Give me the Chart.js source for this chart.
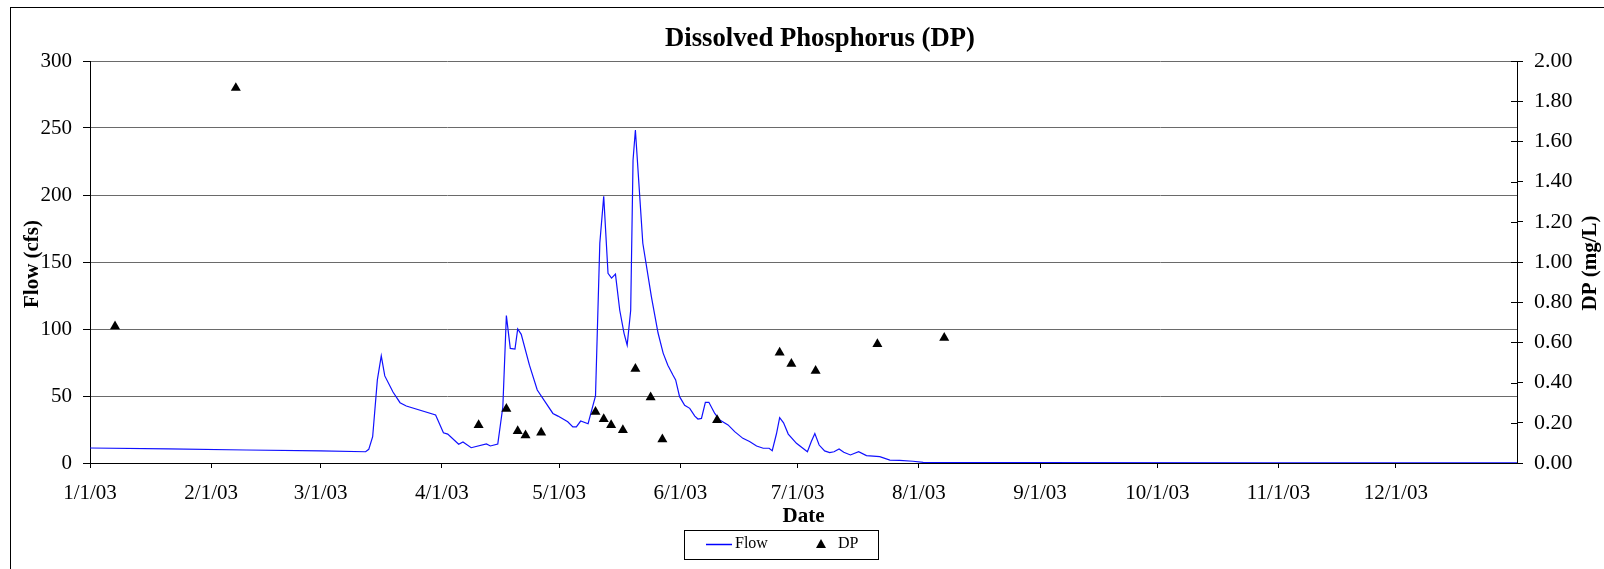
<!DOCTYPE html>
<html><head><meta charset="utf-8">
<script src="https://cdn.jsdelivr.net/npm/chart.js@4.4.1/dist/chart.umd.min.js"></script>
<style>html,body{margin:0;padding:0;background:#fff;overflow:hidden}#wrap{position:relative;width:1604px;height:569px}</style>
</head><body><div id="wrap"><canvas id="c" width="1604" height="569"></canvas></div>
<script>
// Day of year (0 = 1/1/03) and flow in cfs
const flowDay = [0, 20, 40, 59, 70.5, 71.3, 72.3, 73.5, 74.5, 75.4, 77.5, 79.3, 80.9, 88.4, 90.4, 91.5, 94.3, 95.4, 97.5,
  101.4, 102.4, 104.3, 105.6, 106.5, 107.5, 108.7, 109.4, 110.3, 112.4, 114.4, 118.4, 119.7, 122.2, 123.5, 124.4, 125.5, 127.4, 129.3,
  130.4, 131.4, 132.5, 133.4, 134.4, 135.5, 136.6, 137.4, 138.3, 138.9, 139.5, 141.4, 143.6, 145.3, 146.6,
  147.8, 149.1, 149.8, 150.8, 152.1, 153.4, 154.7, 155.5, 156.4, 157.4, 158.3, 159.8, 161.1, 163.2, 164.9, 167, 168.7, 170.5, 172.2, 173.7, 174.5,
  175.6, 176.4, 177.4, 178.6, 180.7, 183.5, 184.5, 185.4, 186.5, 187.9, 189.2, 190.3, 191.6, 192.8, 194.5, 196.6, 198.6, 202, 204.6, 207.1, 210.5, 213.1,
  240, 300, 365];
const flowCfs = [11.2, 10.5, 9.7, 9.0, 8.4, 10.2, 19.6, 62, 80, 65, 53, 45, 42.5, 35.8, 22.6, 21.6, 14, 15.7, 11.4,
  14.2, 12.7, 14.2, 42, 110, 85.5, 85, 100, 96, 73, 54.5, 37, 35, 30.8, 27, 27, 31.3, 29.3, 50,
  164, 199, 141.5, 138, 141, 114, 96.8, 88, 114, 226, 248.5, 164, 124, 97, 82,
  73, 65.7, 62, 49.5, 43, 40.8, 35, 32.8, 33.3, 45.3, 45.3, 37, 32, 28.4, 23.4, 18.4, 16, 12.7, 11, 11, 9.2,
  22, 33.8, 30, 21.6, 14.7, 8.4, 16, 22, 13.4, 9, 7.7, 8.4, 10.4, 8, 6, 8.4, 5.5, 4.7, 2.2, 2, 1.3, 0.5,
  0.3, 0.2, 0.1];
// Dissolved phosphorus samples (mg/L)
const dpDay = [6.4, 37.3, 99.4, 106.5, 109.4, 111.4, 115.4, 129.3, 131.4, 133.3, 136.3, 139.5, 143.4, 146.4, 160.4, 176.4, 179.4, 185.6, 201.4, 218.5];
const dpMgL = [0.68, 1.866, 0.189, 0.27, 0.159, 0.138, 0.151, 0.255, 0.219, 0.189, 0.164, 0.469, 0.327, 0.118, 0.214, 0.549, 0.493, 0.459, 0.592, 0.623];
const monthTickDays = [0, 31, 59, 90, 120, 151, 181, 212, 243, 273, 304, 334];
const monthTickLabels = ['1/1/03','2/1/03','3/1/03','4/1/03','5/1/03','6/1/03','7/1/03','8/1/03','9/1/03','10/1/03','11/1/03','12/1/03'];
const chartTitle = 'Dissolved Phosphorus (DP)';
const leftTitle = 'Flow (cfs)';
const rightTitle = 'DP (mg/L)';
const xTitle = 'Date';

const SERIF = '"Liberation Serif", "Times New Roman", serif';
const W = 1604, H = 569, PLOT_L = 90, PLOT_R = 1517, PLOT_T = 61, PLOT_B = 463;

const decor = {
  id: 'decor',
  afterDraw(chart) {
    const ctx = chart.ctx;
    ctx.save();
    // outer frame
    ctx.strokeStyle = '#000'; ctx.lineWidth = 1;
    ctx.strokeRect(10.5, 7.5, 1700, 700);
    // chart title
    ctx.fillStyle = '#000';
    ctx.font = 'bold 26.7px ' + SERIF;
    ctx.textAlign = 'center'; ctx.textBaseline = 'middle';
    ctx.fillText(chartTitle, 820, 39);
    // axis titles
    ctx.font = 'bold 21px ' + SERIF;
    ctx.save(); ctx.translate(33, 264); ctx.rotate(-Math.PI / 2); ctx.fillText(leftTitle, 0, 0); ctx.restore();
    ctx.save(); ctx.translate(1591, 263); ctx.rotate(-Math.PI / 2); ctx.fillText(rightTitle, 0, 0); ctx.restore();
    // inner half of crossing ticks on right axis
    const y2 = chart.scales.y2;
    ctx.beginPath();
    y2.ticks.forEach(t => { const py = Math.round(y2.getPixelForValue(t.value)) + 0.5; ctx.moveTo(y2.left - 6, py); ctx.lineTo(y2.left, py); });
    ctx.stroke();
    // legend
    ctx.strokeRect(684.5, 530.5, 194, 29);
    ctx.strokeStyle = '#0000ff'; ctx.lineWidth = 1.5;
    ctx.beginPath(); ctx.moveTo(706, 544.5); ctx.lineTo(732, 544.5); ctx.stroke();
    ctx.font = '16px ' + SERIF; ctx.textAlign = 'left';
    ctx.fillText('Flow', 735, 544);
    ctx.beginPath(); ctx.moveTo(821, 539); ctx.lineTo(826, 548); ctx.lineTo(816, 548); ctx.closePath(); ctx.fill();
    ctx.fillText('DP', 838, 544);
    ctx.restore();
  }
};

new Chart(document.getElementById('c'), {
  type: 'scatter',
  data: {
    datasets: [
      { label: 'DP', data: dpDay.map((d, i) => ({ x: d, y: dpMgL[i] })), yAxisID: 'y2',
        pointStyle: 'triangle', pointRadius: 5.8, backgroundColor: '#000', borderColor: '#000', borderWidth: 0, showLine: false },
      { label: 'Flow', data: flowDay.map((d, i) => ({ x: d, y: flowCfs[i] })), yAxisID: 'y', type: 'line',
        borderColor: '#1010ff', borderWidth: 1.2, pointRadius: 0, tension: 0, fill: false }
    ]
  },
  options: {
    responsive: false, animation: false, devicePixelRatio: 1,
    layout: { padding: { top: PLOT_T, left: 0, right: 0, bottom: 0 } },
    plugins: { legend: { display: false }, title: { display: false }, tooltip: { enabled: false } },
    scales: {
      x: {
        type: 'linear', min: 0, max: 365,
        afterFit: s => { s.height = H - PLOT_B; },
        afterBuildTicks: s => { s.ticks = monthTickDays.map(v => ({ value: v })); },
        ticks: { autoSkip: false, maxRotation: 0, padding: 13, color: '#000', font: { family: SERIF, size: 21 },
          callback: (v, i) => monthTickLabels[i] },
        grid: { drawOnChartArea: false, tickLength: 5, tickColor: '#000' },
        border: { display: true, color: '#000', width: 1 },
        title: { display: true, text: xTitle, color: '#000', font: { family: SERIF, size: 21, weight: 'bold' }, padding: { top: 0, bottom: 40 } }
      },
      y: {
        position: 'left', min: 0, max: 300,
        afterFit: s => { s.width = PLOT_L; },
        ticks: { stepSize: 50, padding: 11, color: '#000', font: { family: SERIF, size: 21 } },
        grid: { color: '#6a6a6a', tickLength: 7, tickColor: '#000' },
        border: { display: true, color: '#000', width: 1 }
      },
      y2: {
        position: 'right', min: 0, max: 2,
        afterFit: s => { s.width = W - PLOT_R; },
        ticks: { stepSize: 0.2, padding: 11, color: '#000', font: { family: SERIF, size: 22 }, callback: v => Number(v).toFixed(2) },
        grid: { drawOnChartArea: false, tickLength: 6, tickColor: '#000' },
        border: { display: true, color: '#000', width: 1 }
      }
    }
  },
  plugins: [decor]
});
</script>
</body></html>
